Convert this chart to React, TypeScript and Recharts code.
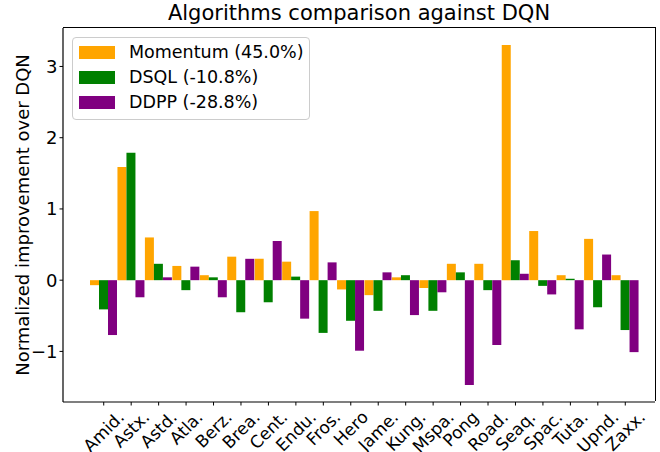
import React from "react";
import { BarChart, Bar, XAxis, YAxis, Legend } from "recharts";

const categories = [
  "Amid.", "Astx.", "Astd.", "Atla.", "Berz.", "Brea.", "Cent.", "Endu.", "Fros.", "Hero",
  "Jame.", "Kung.", "Mspa.", "Pong", "Road.", "Seaq.", "Spac.", "Tuta.", "Upnd.", "Zaxx.",
];
const momentum = [-0.07, 1.59, 0.6, 0.2, 0.07, 0.33, 0.3, 0.26, 0.97, -0.13, -0.21, 0.04, -0.11, 0.23, 0.23, 3.3, 0.69, 0.07, 0.58, 0.07];
const dsql = [-0.41, 1.79, 0.23, -0.14, 0.04, -0.45, -0.31, 0.05, -0.74, -0.57, -0.43, 0.07, -0.43, 0.11, -0.14, 0.28, -0.08, 0.02, -0.38, -0.7];
const ddpp = [-0.77, -0.24, 0.04, 0.19, -0.24, 0.3, 0.55, -0.54, 0.25, -0.99, 0.11, -0.49, -0.17, -1.47, -0.91, 0.09, -0.2, -0.69, 0.36, -1.01];
const yTicks = [-1, 0, 1, 2, 3];

const series = [
  { key: "momentum", label: "Momentum (45.0%)", color: "#ffa500" },
  { key: "dsql", label: "DSQL (-10.8%)", color: "#008000" },
  { key: "ddpp", label: "DDPP (-28.8%)", color: "#800080" },
];

const data = categories.map((name, i) => ({
  name,
  momentum: momentum[i],
  dsql: dsql[i],
  ddpp: ddpp[i],
}));

const FONT = "'DejaVu Sans', sans-serif";
const XFS = 17;

let ctx: CanvasRenderingContext2D | null = null;
function textWidth(t: string, font: string) {
  if (!ctx) ctx = document.createElement("canvas").getContext("2d");
  if (!ctx) return t.length * 9;
  ctx.font = font;
  return ctx.measureText(t).width;
}

// rotated 45deg labels, bbox centred on the tick like matplotlib
function XTick(props: any) {
  const { x, y, payload } = props;
  const len = textWidth(payload.value, `${XFS}px 'DejaVu Sans'`);
  const half = ((len + XFS * 1.0) * 0.7071) / 2;
  const cy = y + half;
  return (
    <text
      x={x}
      y={cy}
      textAnchor="middle"
      dominantBaseline="central"
      transform={`rotate(-45, ${x}, ${cy})`}
      fontSize={XFS}
      fontFamily={FONT}
      fill="#000"
    >
      {payload.value}
    </text>
  );
}

function LegendBox() {
  return (
    <div
      style={{
        width: 236,
        height: 81,
        border: "1px solid #cccccc",
        borderRadius: 4,
        background: "rgba(255,255,255,0.8)",
        position: "relative",
        fontFamily: FONT,
        fontSize: 17.5,
        color: "#000",
      }}
    >
      {series.map((s, i) => (
        <div key={s.key} style={{ position: "absolute", left: 6, top: 7.5 + i * 25.4, height: 13, display: "flex", alignItems: "center" }}>
          <div style={{ width: 36, height: 13, background: s.color }} />
          <span style={{ marginLeft: 14, whiteSpace: "nowrap", lineHeight: "13px" }}>{s.label}</span>
        </div>
      ))}
    </div>
  );
}

export default function App() {
  return (
    <div style={{ position: "absolute", left: 0, top: 0, width: 660, height: 452, background: "#fff" }}>
      <div
        style={{
          position: "absolute",
          left: 63,
          width: 592,
          top: 1,
          textAlign: "center",
          fontFamily: FONT,
          fontSize: 21,
          color: "#000",
          whiteSpace: "nowrap",
        }}
      >
        Algorithms comparison against DQN
      </div>
      <BarChart
        width={660}
        height={452}
        data={data}
        margin={{ top: 28, right: 5, bottom: 0, left: 0 }}
        barCategoryGap={0}
        barGap={0}
      >
        <XAxis
          dataKey="name"
          interval={0}
          height={50}
          padding={{ left: 27, right: 16 }}
          tickSize={3.5}
          tickMargin={2.5}
          tick={<XTick />}
          axisLine={{ stroke: "#000", strokeWidth: 1.2 }}
          tickLine={{ stroke: "#000" }}
        />
        <YAxis
          type="number"
          domain={[-1.71, 3.54]}
          ticks={yTicks}
          allowDataOverflow
          width={63}
          tickSize={3.5}
          tickMargin={2}
          tickFormatter={(v: number) => (v < 0 ? "\u2212" + Math.abs(v) : String(v))}
          tick={{ fontSize: 18, fontFamily: FONT, fill: "#000" }}
          axisLine={{ stroke: "#000", strokeWidth: 1.2 }}
          tickLine={{ stroke: "#000" }}
          label={{
            content: (p: any) => {
              const vb = p.viewBox || { y: 28, height: 374 };
              const cy = vb.y + vb.height / 2;
              return (
                <text
                  x={22}
                  y={cy}
                  transform={`rotate(-90, 22, ${cy})`}
                  textAnchor="middle"
                  dominantBaseline="central"
                  fontSize={18}
                  fontFamily={FONT}
                  fill="#000"
                >
                  Normalized improvement over DQN
                </text>
              );
            },
          }}
        />
        <Legend
          layout="vertical"
          align="center"
          verticalAlign="middle"
          content={() => <LegendBox />}
          wrapperStyle={{ left: 72, top: 37, width: 238, height: 83 }}
        />
        {series.map((s) => (
          <Bar key={s.key} dataKey={s.key} name={s.label} fill={s.color} isAnimationActive={false} />
        ))}
      </BarChart>
      {/* top and right spines */}
      <div
        style={{
          position: "absolute",
          left: 63,
          top: 27.4,
          width: 592.6,
          height: 374,
          borderTop: "1.2px solid #000",
          borderRight: "1.2px solid #000",
          boxSizing: "border-box",
          pointerEvents: "none",
        }}
      />
    </div>
  );
}
